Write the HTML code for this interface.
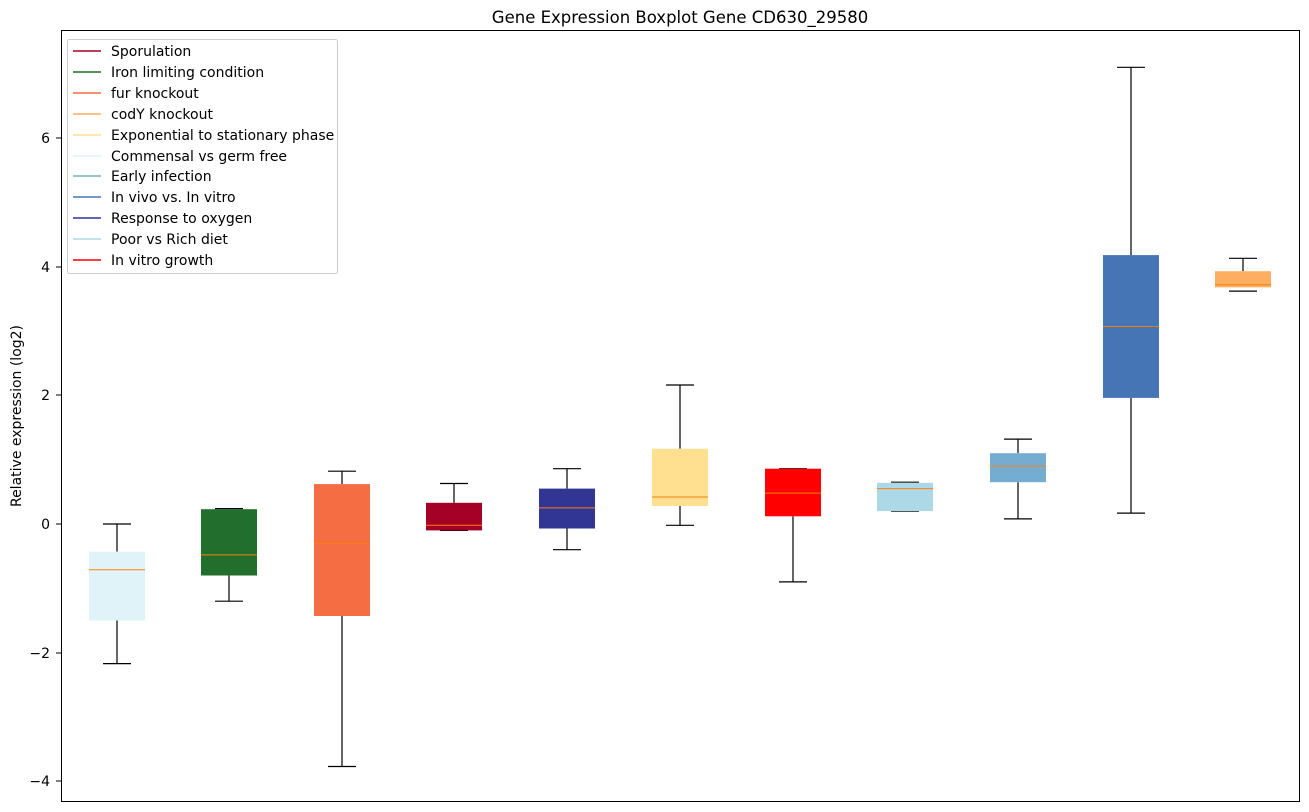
<!DOCTYPE html>
<html><head><meta charset="utf-8"><style>
html,body{margin:0;padding:0;background:#fff;}
svg{display:block;font-family:"DejaVu Sans","Liberation Sans",sans-serif;}
</style></head><body>
<svg width="1309" height="812" viewBox="0 0 1309 812" xmlns="http://www.w3.org/2000/svg">
<rect width="1309" height="812" fill="#fff"/>
<text x="680" y="23" font-size="16.5" text-anchor="middle" fill="#000">Gene Expression Boxplot Gene CD630_29580</text>
<g stroke="#000" stroke-width="1">
<line x1="56" y1="138" x2="61" y2="138"/><line x1="56" y1="267" x2="61" y2="267"/>
<line x1="56" y1="395" x2="61" y2="395"/><line x1="56" y1="524" x2="61" y2="524"/>
<line x1="56" y1="653" x2="61" y2="653"/><line x1="56" y1="781" x2="61" y2="781"/>
</g>
<g font-size="14" text-anchor="end" fill="#000">
<text x="50" y="143">6</text><text x="50" y="272">4</text><text x="50" y="400">2</text>
<text x="50" y="529">0</text><text x="50" y="658">−2</text><text x="50" y="786">−4</text>
</g>
<text transform="translate(21,416) rotate(-90)" font-size="14" text-anchor="middle" fill="#000">Relative expression (log2)</text>

<g stroke="#000" stroke-width="1.2">
<line x1="117" y1="524" x2="117" y2="551.7"/><line x1="117" y1="620.5" x2="117" y2="663.6"/>
<line x1="103" y1="524" x2="131" y2="524"/><line x1="103" y1="663.6" x2="131" y2="663.6"/>
<line x1="229" y1="575.5" x2="229" y2="601.2"/>
<line x1="215" y1="508.6" x2="243" y2="508.6"/><line x1="215" y1="601.2" x2="243" y2="601.2"/>
<line x1="342" y1="471.2" x2="342" y2="484.1"/><line x1="342" y1="616" x2="342" y2="766.5"/>
<line x1="328" y1="471.2" x2="356" y2="471.2"/><line x1="328" y1="766.5" x2="356" y2="766.5"/>
<line x1="454" y1="483.5" x2="454" y2="502.8"/>
<line x1="440" y1="483.5" x2="468" y2="483.5"/><line x1="440" y1="530.4" x2="468" y2="530.4"/>
<line x1="567" y1="468.7" x2="567" y2="488.6"/><line x1="567" y1="528.5" x2="567" y2="549.7"/>
<line x1="553" y1="468.7" x2="581" y2="468.7"/><line x1="553" y1="549.7" x2="581" y2="549.7"/>
<line x1="680" y1="385" x2="680" y2="448.7"/><line x1="680" y1="506" x2="680" y2="525.3"/>
<line x1="666" y1="385" x2="694" y2="385"/><line x1="666" y1="525.3" x2="694" y2="525.3"/>
<line x1="793" y1="516.3" x2="793" y2="581.9"/>
<line x1="779" y1="468.7" x2="807" y2="468.7"/><line x1="779" y1="581.9" x2="807" y2="581.9"/>
<line x1="891" y1="482.2" x2="919" y2="482.2"/><line x1="891" y1="511.1" x2="919" y2="511.1"/>
<line x1="1018" y1="439.1" x2="1018" y2="453.2"/><line x1="1018" y1="482.2" x2="1018" y2="518.9"/>
<line x1="1004" y1="439.1" x2="1032" y2="439.1"/><line x1="1004" y1="518.9" x2="1032" y2="518.9"/>
<line x1="1131" y1="67.3" x2="1131" y2="255.1"/><line x1="1131" y1="397.9" x2="1131" y2="513.1"/>
<line x1="1117" y1="67.3" x2="1145" y2="67.3"/><line x1="1117" y1="513.1" x2="1145" y2="513.1"/>
<line x1="1243" y1="258.3" x2="1243" y2="271.2"/>
<line x1="1229" y1="258.3" x2="1257" y2="258.3"/><line x1="1229" y1="291.1" x2="1257" y2="291.1"/>
</g>

<g>
<rect x="89" y="551.7" width="56" height="68.8" fill="#e0f3f8"/>
<rect x="201" y="509.2" width="56" height="66.3" fill="#226e2d"/>
<rect x="314" y="484.1" width="56" height="131.9" fill="#f46d43"/>
<rect x="426" y="502.8" width="56" height="27.6" fill="#a50026"/>
<rect x="539" y="488.6" width="56" height="39.9" fill="#313695"/>
<rect x="652" y="448.7" width="56" height="57.3" fill="#fee090"/>
<rect x="765" y="468.7" width="56" height="47.6" fill="#ff0000"/>
<rect x="877" y="482.8" width="56" height="28.3" fill="#add8e6"/>
<rect x="990" y="453.2" width="56" height="29" fill="#74add1"/>
<rect x="1103" y="255.1" width="56" height="142.8" fill="#4575b4"/>
<rect x="1215" y="271.2" width="56" height="16.1" fill="#fdae61"/>
</g>
<g stroke="#ff7f0e" stroke-width="1">
<line x1="89" y1="569.7" x2="145" y2="569.7"/>
<line x1="201" y1="554.9" x2="257" y2="554.9"/>
<line x1="314" y1="543.3" x2="370" y2="543.3"/>
<line x1="426" y1="525.3" x2="482" y2="525.3"/>
<line x1="539" y1="507.9" x2="595" y2="507.9"/>
<line x1="652" y1="497" x2="708" y2="497"/>
<line x1="765" y1="493.1" x2="821" y2="493.1"/>
<line x1="877" y1="488.6" x2="933" y2="488.6"/>
<line x1="990" y1="466.1" x2="1046" y2="466.1"/>
<line x1="1103" y1="326.5" x2="1159" y2="326.5"/>
<line x1="1215" y1="284.7" x2="1271" y2="284.7"/>
</g>

<rect x="61.5" y="30.5" width="1238" height="771" fill="none" stroke="#000" stroke-width="1"/>
<rect x="67.5" y="39.5" width="270" height="234" fill="#fff" stroke="#ccc" rx="2"/>
<g stroke-width="1.5">
<line x1="73" y1="51" x2="101" y2="51" stroke="#a50026"/>
<line x1="73" y1="72" x2="101" y2="72" stroke="#226e2d"/>
<line x1="73" y1="93" x2="101" y2="93" stroke="#f46d43"/>
<line x1="73" y1="114" x2="101" y2="114" stroke="#fdae61"/>
<line x1="73" y1="135" x2="101" y2="135" stroke="#fee090"/>
<line x1="73" y1="156" x2="101" y2="156" stroke="#e0f3f8"/>
<line x1="73" y1="176" x2="101" y2="176" stroke="#74add1"/>
<line x1="73" y1="197" x2="101" y2="197" stroke="#4575b4"/>
<line x1="73" y1="218" x2="101" y2="218" stroke="#313695"/>
<line x1="73" y1="239" x2="101" y2="239" stroke="#add8e6"/>
<line x1="73" y1="260" x2="101" y2="260" stroke="#ff0000"/>
</g>
<g font-size="14" fill="#000">
<text x="111" y="56">Sporulation</text>
<text x="111" y="77">Iron limiting condition</text>
<text x="111" y="98">fur knockout</text>
<text x="111" y="119">codY knockout</text>
<text x="111" y="140">Exponential to stationary phase</text>
<text x="111" y="161">Commensal vs germ free</text>
<text x="111" y="181">Early infection</text>
<text x="111" y="202">In vivo vs. In vitro</text>
<text x="111" y="223">Response to oxygen</text>
<text x="111" y="244">Poor vs Rich diet</text>
<text x="111" y="265">In vitro growth</text>
</g>
</svg>
</body></html>
